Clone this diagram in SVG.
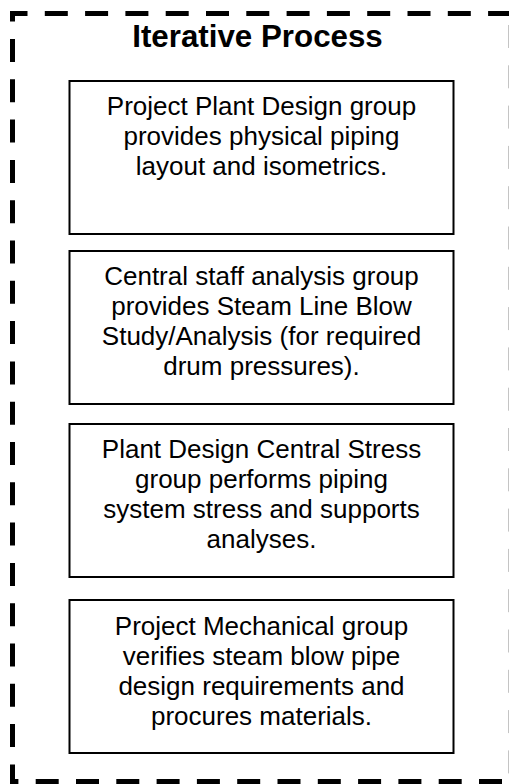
<svg xmlns="http://www.w3.org/2000/svg" width="509" height="784" viewBox="0 0 509 784">
<style>
.frame{fill:none;stroke:#000;stroke-width:5;stroke-dasharray:23 17.3}
.frame-edge{fill:none;stroke:#c4c4c4;stroke-width:1;stroke-dasharray:23 17.3}
.box{fill:#fff;stroke:#000;stroke-width:2}
.t{font-family:"Liberation Sans",Arial,sans-serif;font-size:26px;fill:#000;text-anchor:middle}
.title{font-family:"Liberation Sans",Arial,sans-serif;font-size:31.3px;font-weight:bold;fill:#000;text-anchor:middle}
</style>
<rect width="509" height="784" fill="#fff"/>
<g id="frame">
<path class="frame" d="M12.5,21.5 V13.5 H512"/>
<path class="frame" d="M12.5,39 V781.5 H512"/>
<path class="frame-edge" d="M508.5,25 V778"/>
<text class="title" x="257.5" y="47">Iterative Process</text>
</g>
<g id="connectors"></g>
<g id="n1">
<rect class="box" x="69.5" y="81" width="384" height="153"/>
<text class="t" x="261.5" y="115">Project Plant Design group</text>
<text class="t" x="261.5" y="145">provides physical piping</text>
<text class="t" x="261.5" y="175">layout and isometrics.</text>
</g>
<g id="n2">
<rect class="box" x="69.5" y="251" width="384" height="153"/>
<text class="t" x="261.5" y="285">Central staff analysis group</text>
<text class="t" x="261.5" y="315">provides Steam Line Blow</text>
<text class="t" x="261.5" y="345">Study/Analysis (for required</text>
<text class="t" x="261.5" y="375">drum pressures).</text>
</g>
<g id="n3">
<rect class="box" x="69.5" y="424" width="384" height="153"/>
<text class="t" x="261.5" y="458">Plant Design Central Stress</text>
<text class="t" x="261.5" y="488">group performs piping</text>
<text class="t" x="261.5" y="518">system stress and supports</text>
<text class="t" x="261.5" y="548">analyses.</text>
</g>
<g id="n4">
<rect class="box" x="69.5" y="600" width="384" height="153"/>
<text class="t" x="261.5" y="635">Project Mechanical group</text>
<text class="t" x="261.5" y="665">verifies steam blow pipe</text>
<text class="t" x="261.5" y="695">design requirements and</text>
<text class="t" x="261.5" y="725">procures materials.</text>
</g>
</svg>
